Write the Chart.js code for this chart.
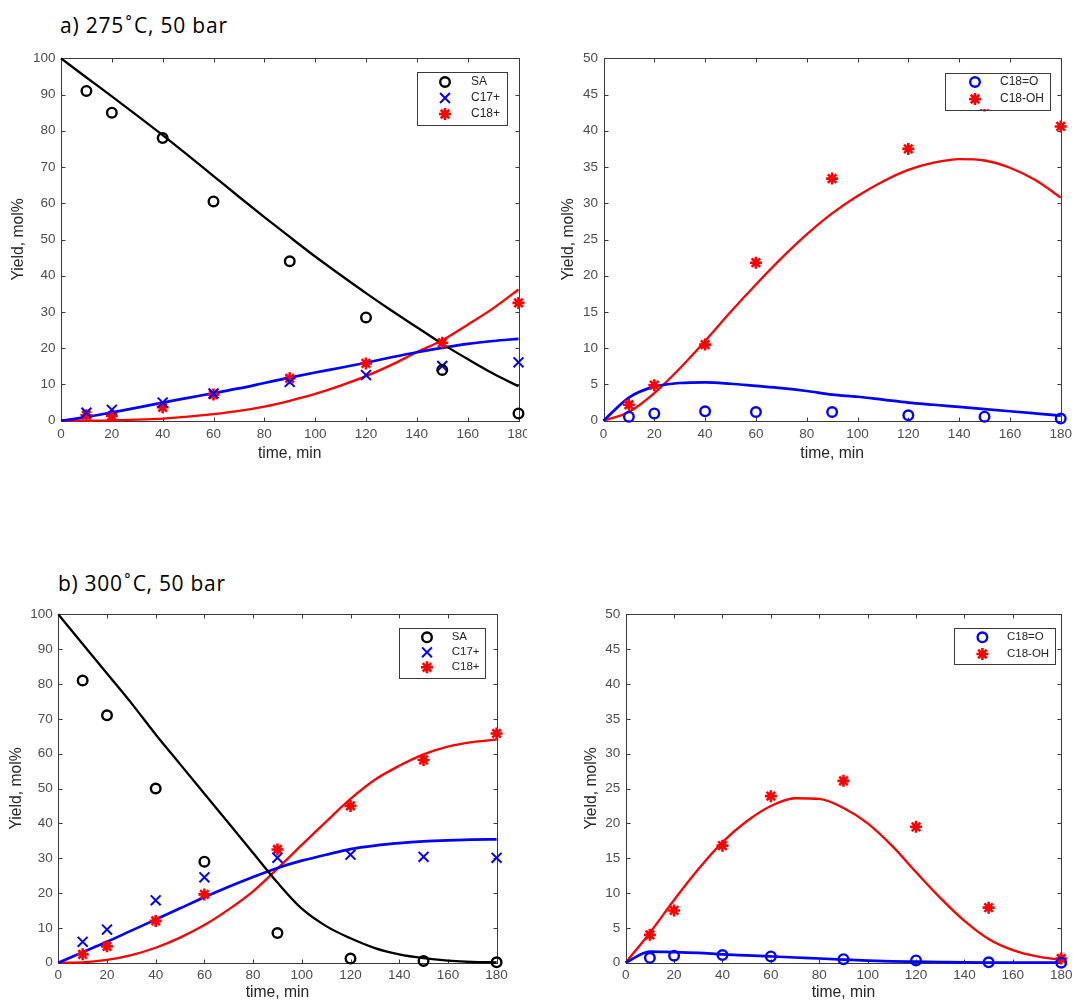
<!DOCTYPE html>
<html><head><meta charset="utf-8">
<script src="https://cdn.jsdelivr.net/npm/chart.js@4.4.1/dist/chart.umd.min.js"></script>
<style>
html,body{margin:0;padding:0;background:#fff;}
body{width:1077px;height:1001px;overflow:hidden;position:relative;}
.panel{position:absolute;overflow:hidden;}
.title{position:absolute;font-family:'Open Sans',Lato,sans-serif;font-size:21px;color:#000;white-space:nowrap;line-height:1;}
.ring{margin:0 1.5px;}
</style></head><body>
<div class="title" id="tA" style="left:60px;top:15px">a) 275<span class="ring">˚</span>C, 50 bar</div>
<div class="title" id="tB" style="left:58px;top:573px">b) 300<span class="ring">˚</span>C, 50 bar</div>
<div class="panel" style="left:0px;top:0px;width:527px;height:470px"><canvas id="cA1"></canvas></div>
<div class="panel" style="left:540px;top:0px;width:537px;height:470px"><canvas id="cA2"></canvas></div>
<div class="panel" style="left:0px;top:560px;width:540px;height:445px"><canvas id="cB1"></canvas></div>
<div class="panel" style="left:540px;top:560px;width:537px;height:445px"><canvas id="cB2"></canvas></div>
<script>
// ---------- data ----------
const sampleTimes = [10, 20, 40, 60, 90, 120, 150, 180];
const fitTimes = [0, 10, 20, 30, 40, 50, 60, 70, 80, 90, 100, 110, 120, 130, 140, 150, 160, 170, 180];
const xTickLabels = [0, 20, 40, 60, 80, 100, 120, 140, 160, 180];
const yTickLabelsMain = [0, 10, 20, 30, 40, 50, 60, 70, 80, 90, 100];
const yTickLabelsSide = [0, 5, 10, 15, 20, 25, 30, 35, 40, 45, 50];

// 275 C, 50 bar - measured points
const sa275 = [91, 85, 78, 60.5, 44, 28.5, 14, 2];
const c17p275 = [2.2, 3, 5, 7.5, 10.7, 12.6, 15.1, 16.1];
const c18p275 = [1.5, 1.3, 3.7, 7.2, 11.7, 15.8, 21.5, 32.5];
const c18o275 = [0.55, 1, 1.3, 1.2, 1.2, 0.75, 0.55, 0.3];
const c18oh275 = [2.2, 4.9, 10.5, 21.8, 33.4, 37.5, 43.5, 40.6];
// 275 C, 50 bar - model curves
const saFit275 = [100, 94.7, 89.5, 84.2, 78.8, 73.2, 67.5, 61.8, 56.2, 50.7, 45.3, 40.2, 35.2, 30.4, 25.8, 21.2, 17, 13, 9.5];
const c17pFit275 = [0, 1, 2.3, 3.6, 5, 6.3, 7.6, 8.9, 10.4, 11.9, 13.3, 14.6, 16, 17.5, 18.9, 20.1, 21.2, 22, 22.6];
const c18pFit275 = [0, 0, 0.1, 0.3, 0.6, 1.1, 1.8, 2.7, 3.9, 5.5, 7.4, 9.7, 12.3, 15.4, 18.9, 22.2, 26.5, 31, 36.2];
const c18oFit275 = [0, 3.2, 4.7, 5.2, 5.3, 5.1, 4.8, 4.5, 4.1, 3.6, 3.3, 2.9, 2.5, 2.2, 1.9, 1.6, 1.3, 1.0, 0.7];
const c18ohFit275 = [0, 1.2, 3.8, 7.2, 11, 15, 18.8, 22.4, 25.7, 28.6, 31, 33, 34.6, 35.6, 36.1, 35.9, 34.9, 33.2, 30.8];

// 300 C, 50 bar - measured points
const sa300 = [81, 71, 50, 29, 8.5, 1.2, 0.5, 0.1];
const c17p300 = [6, 9.5, 17.9, 24.5, 30.1, 31, 30.4, 30.1];
const c18p300 = [2.4, 4.7, 12, 19.6, 32.5, 45, 58.2, 65.8];
const c18o300 = [0.7, 1, 1.1, 0.9, 0.5, 0.33, 0.05, 0];
const c18oh300 = [4, 7.5, 16.8, 23.9, 26.1, 19.5, 7.9, 0.6];
// 300 C, 50 bar - model curves
const saFit300 = [100, 91.5, 83, 74.5, 65.5, 57, 48.5, 40, 31.5, 23, 15.5, 10.5, 7, 4.2, 2.4, 1.3, 0.6, 0.2, 0.1];
const c17pFit300 = [0, 3, 6, 9.2, 12.4, 15.6, 18.8, 21.8, 24.6, 27.2, 29.3, 31, 32.6, 33.6, 34.3, 34.8, 35.1, 35.3, 35.4];
const c18pFit300 = [0, 0.1, 0.8, 2.2, 4.3, 7.2, 10.8, 15.3, 20.5, 27, 33.8, 40.5, 47, 52.5, 56.5, 59.8, 62, 63.3, 64];
const c18oFit300 = [0, 1.6, 1.5, 1.4, 1.2, 1.05, 0.9, 0.75, 0.6, 0.45, 0.3, 0.2, 0.15, 0.1, 0.05, 0.02, 0, 0, 0];
const c18ohFit300 = [0, 4.3, 9, 13.4, 17.3, 20.3, 22.5, 23.6, 23.5, 22.2, 20, 16.8, 13, 9.3, 6, 3.4, 1.8, 0.9, 0.4];

// ---------- helpers ----------
const BLACK = '#000000', BLUE = '#0000ff', RED = '#ff0000';
const TICK_FONT = 13.5, TITLE_FONT = 15.7;
const FONT_FAMILY = "Arial, 'Liberation Sans', Helvetica, sans-serif";
const pairs = (xs, ys) => xs.map((x, i) => ({x: x, y: ys[i]}));

const markerStyles = {
  circle: {pointStyle: 'circle', pointRadius: 4.8, borderWidth: 2.4},
  cross: {pointStyle: 'crossRot', pointRadius: 7, borderWidth: 2},
  star: {pointStyle: 'star', pointRadius: 6, borderWidth: 2.6}
};

function pointsDS(label, ys, color, marker) {
  const m = markerStyles[marker];
  return {
    type: 'scatter', label: label, data: pairs(sampleTimes, ys), showLine: false,
    borderColor: color, backgroundColor: 'rgba(0,0,0,0)',
    pointStyle: m.pointStyle, pointRadius: m.pointRadius, pointBorderWidth: m.borderWidth,
    borderWidth: m.borderWidth, pointHoverRadius: m.pointRadius, clip: false, _legend: true
  };
}
function fitDS(ys, color, width) {
  return {
    type: 'line', label: '', data: pairs(fitTimes, ys), borderColor: color,
    borderWidth: width || 2.3, pointRadius: 0, fill: false, cubicInterpolationMode: 'monotone', clip: false
  };
}

function drawMarker(ctx, ds, x, y) {
  ctx.save();
  ctx.strokeStyle = ds.borderColor;
  ctx.fillStyle = 'rgba(0,0,0,0)';
  ctx.lineWidth = ds.pointBorderWidth;
  Chart.helpers.drawPoint(ctx, {pointStyle: ds.pointStyle, radius: ds.pointRadius, rotation: 0, borderWidth: ds.pointBorderWidth}, x, y);
  ctx.restore();
}

const framePlugin = {
  id: 'matlabFrame',
  beforeDatasetsDraw(chart) {
    const ctx = chart.ctx, a = chart.chartArea;
    const L = Math.round(a.left) + 0.5, R = Math.round(a.right) + 0.5;
    const T = Math.round(a.top) + 0.5, B = Math.round(a.bottom) + 0.5;
    ctx.save();
    ctx.strokeStyle = '#3a3a3a';
    ctx.lineWidth = 1;
    ctx.strokeRect(L, T, R - L, B - T);
    const tl = 4;
    ctx.beginPath();
    chart.scales.x.ticks.forEach(t => {
      const p = Math.round(chart.scales.x.getPixelForValue(t.value)) + 0.5;
      ctx.moveTo(p, B); ctx.lineTo(p, B - tl);
      ctx.moveTo(p, T); ctx.lineTo(p, T + tl);
    });
    chart.scales.y.ticks.forEach(t => {
      const p = Math.round(chart.scales.y.getPixelForValue(t.value)) + 0.5;
      ctx.moveTo(L, p); ctx.lineTo(L + tl, p);
      ctx.moveTo(R, p); ctx.lineTo(R - tl, p);
    });
    ctx.stroke();
    ctx.restore();
  },
  afterDatasetsDraw(chart, args, opts) {
    const lg = opts.legend;
    if (!lg) return;
    const ctx = chart.ctx;
    ctx.save();
    ctx.fillStyle = '#ffffff';
    ctx.fillRect(lg.x1, lg.y1, lg.x2 - lg.x1, lg.y2 - lg.y1);
    ctx.strokeStyle = '#3a3a3a';
    ctx.lineWidth = 1;
    ctx.strokeRect(Math.round(lg.x1) + 0.5, Math.round(lg.y1) + 0.5, Math.round(lg.x2 - lg.x1), Math.round(lg.y2 - lg.y1));
    const items = chart.data.datasets.filter(d => d._legend);
    items.forEach((ds, i) => {
      drawMarker(ctx, ds, lg.mx, lg.rows[i]);
      ctx.fillStyle = '#262626';
      ctx.font = lg.font + 'px ' + FONT_FAMILY;
      ctx.textBaseline = 'middle';
      ctx.textAlign = 'left';
      ctx.fillText(ds.label, lg.tx, lg.rows[i]);
    });
    ctx.restore();
  }
};

function makePanel(id, g, yMax, yTicks, datasets, legend) {
  const canvas = document.getElementById(id);
  canvas.width = g.cw; canvas.height = g.ch;
  canvas.style.width = g.cw + 'px'; canvas.style.height = g.ch + 'px';
  const half = TITLE_FONT * 1.2 / 2;
  const padLeft = g.yTitleX - half - g.cx;
  const yW = g.left - g.cx - padLeft;
  const padTop = g.top - g.cy;
  const padRight = g.cx + g.cw - g.right;
  const xH = g.xTitleY + half - g.bottom;
  const padBottom = g.cy + g.ch - g.bottom - xH;
  const lg = {
    x1: legend.x1 - g.cx, x2: legend.x2 - g.cx, y1: legend.y1 - g.cy, y2: legend.y2 - g.cy,
    rows: legend.rows.map(r => r - g.cy), mx: legend.mx - g.cx, tx: legend.tx - g.cx, font: legend.font
  };
  return new Chart(canvas, {
    type: 'scatter',
    data: {datasets: datasets},
    options: {
      responsive: false, animation: false, devicePixelRatio: 1,
      layout: {padding: {left: padLeft, right: padRight, top: padTop, bottom: padBottom}},
      plugins: {legend: {display: false}, tooltip: {enabled: false}, matlabFrame: {legend: lg}},
      scales: {
        x: {
          type: 'linear', min: 0, max: 180,
          afterBuildTicks: s => { s.ticks = xTickLabels.map(v => ({value: v})); },
          afterFit: s => { s.height = xH; },
          grid: {display: false, drawTicks: false}, border: {display: false},
          ticks: {padding: g.xTickPad, color: '#4d4d4d', maxRotation: 0, autoSkip: false,
                  font: {family: FONT_FAMILY, size: TICK_FONT}},
          title: {display: true, text: 'time, min', color: '#262626', padding: {top: 0, bottom: 0},
                  font: {family: FONT_FAMILY, size: TITLE_FONT}}
        },
        y: {
          type: 'linear', min: 0, max: yMax,
          afterBuildTicks: s => { s.ticks = yTicks.map(v => ({value: v})); },
          afterFit: s => { s.width = yW; },
          grid: {display: false, drawTicks: false}, border: {display: false},
          ticks: {padding: 5.5, color: '#4d4d4d', autoSkip: false,
                  font: {family: FONT_FAMILY, size: TICK_FONT}},
          title: {display: true, text: 'Yield, mol%', color: '#262626', padding: {top: 0, bottom: 0},
                  font: {family: FONT_FAMILY, size: TITLE_FONT}}
        }
      }
    },
    plugins: [framePlugin]
  });
}

// ---------- panels ----------
makePanel('cA1',
  {cx: 0, cy: 0, cw: 560, ch: 470, left: 61, right: 518.5, top: 58.3, bottom: 420.7, yTitleX: 19, xTitleY: 453.5, xTickPad: 5},
  100, yTickLabelsMain,
  [pointsDS('SA', sa275, BLACK, 'circle'), pointsDS('C17+', c17p275, BLUE, 'cross'), pointsDS('C18+', c18p275, RED, 'star'),
   fitDS(saFit275, BLACK), fitDS(c17pFit275, BLUE, 2.7), fitDS(c18pFit275, RED)],
  {x1: 416.5, x2: 506, y1: 72, y2: 124.5, rows: [82, 98, 114], mx: 445, tx: 471, font: 12});

makePanel('cA2',
  {cx: 540, cy: 0, cw: 537, ch: 470, left: 603.5, right: 1063.5, top: 58.3, bottom: 420.7, yTitleX: 569, xTitleY: 453.5, xTickPad: 5},
  50, yTickLabelsSide,
  [pointsDS('C18=O', c18o275, BLUE, 'circle'), pointsDS('C18-OH', c18oh275, RED, 'star'),
   fitDS(c18oFit275, BLUE, 2.7), fitDS(c18ohFit275, RED)],
  {x1: 944.5, x2: 1049.5, y1: 72.5, y2: 109, rows: [82, 99], mx: 975, tx: 1000, font: 12});

makePanel('cB1',
  {cx: 0, cy: 560, cw: 560, ch: 445, left: 58.3, right: 496.6, top: 614.3, bottom: 962.7, yTitleX: 17, xTitleY: 993, xTickPad: 4.5},
  100, yTickLabelsMain,
  [pointsDS('SA', sa300, BLACK, 'circle'), pointsDS('C17+', c17p300, BLUE, 'cross'), pointsDS('C18+', c18p300, RED, 'star'),
   fitDS(saFit300, BLACK), fitDS(c17pFit300, BLUE, 2.7), fitDS(c18pFit300, RED)],
  {x1: 399, x2: 484.5, y1: 627.7, y2: 677.5, rows: [637.3, 652.3, 667.3], mx: 427, tx: 451.7, font: 11.5});

makePanel('cB2',
  {cx: 540, cy: 560, cw: 537, ch: 445, left: 625.7, right: 1064, top: 614.3, bottom: 962.7, yTitleX: 592, xTitleY: 993, xTickPad: 4.5},
  50, yTickLabelsSide,
  [pointsDS('C18=O', c18o300, BLUE, 'circle'), pointsDS('C18-OH', c18oh300, RED, 'star'),
   fitDS(c18oFit300, BLUE, 2.7), fitDS(c18ohFit300, RED)],
  {x1: 953.8, x2: 1054.8, y1: 627.7, y2: 664, rows: [637.3, 654], mx: 982.4, tx: 1007, font: 11.5});

// stretch panel headings to the reference width
[['tA', 167], ['tB', 167]].forEach(([id, target]) => {
  const el = document.getElementById(id);
  const w = el.getBoundingClientRect().width;
  const n = el.textContent.length - 1;
  el.style.letterSpacing = Math.max(0, (target - w) / n).toFixed(2) + 'px';
});
</script>
</body></html>
